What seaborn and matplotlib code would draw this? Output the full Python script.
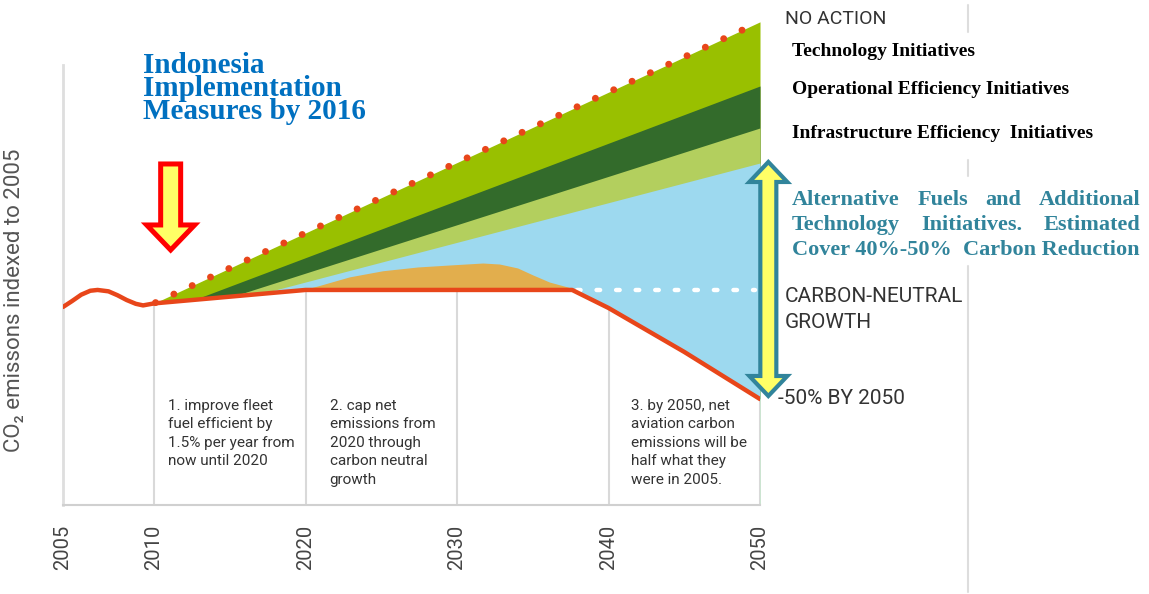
import numpy as np
import matplotlib
matplotlib.use("Agg")
import matplotlib.pyplot as plt
import matplotlib.font_manager as fm
import matplotlib.transforms as mtransforms
from matplotlib.patches import Polygon, Rectangle
from matplotlib.lines import Line2D
import seaborn as sns

# ---- data (CO2 index, 2005 = 100) ----
red_years = [2005, 2005.5, 2006, 2006.5, 2006.9, 2007.5, 2008, 2008.5, 2009, 2009.4,
             2010, 2020, 2037.6, 2040, 2045, 2050]
red_vals = [100.0, 103.0, 106.2, 108.2, 108.6, 107.9, 105.9, 103.5, 101.6, 100.8,
            101.8, 108.6, 108.6, 99.5, 77.3, 53.5]

neutral_years = [2037.9, 2049.7]
neutral_vals = [108.6, 108.6]

no_action_years = [2010.1, 2050]
no_action_vals = [102.2, 244.0]
tech_years = [2012.7, 2050]          # bottom of technology band
tech_vals = [103.8, 211.6]
ops_years = [2015.3, 2050]           # bottom of operational band
ops_vals = [105.6, 190.4]
infra_years = [2017.1, 2050]         # bottom of infrastructure band
infra_vals = [106.8, 172.7]

hump_years = [2019.8, 2020.8, 2022.9, 2025.1, 2027.4, 2029.5, 2031.7, 2032.8,
              2034.0, 2035.0, 2036.1, 2037.3, 2037.8]
hump_vals = [108.6, 110.6, 115.2, 118.3, 120.2, 121.2, 122.2, 121.7,
             119.7, 116.2, 112.6, 110.1, 108.6]

tick_years = [2005, 2010, 2020, 2030, 2040, 2050]
grid_years = [2010, 2020, 2030, 2040, 2050]

W, H = 1149, 594
names = {f.name for f in fm.fontManager.ttflist}
narrow = 'Liberation Sans Narrow' if 'Liberation Sans Narrow' in names else 'Roboto'
serif = 'Liberation Serif'

sns.set_style("white")

fig = plt.figure(figsize=(W / 100, H / 100), dpi=100)
ax = fig.add_axes([63 / W, (H - 505) / H, 697 / W, 500 / H])


# x axis is squeezed before 2010 and even after it
def fwd(x):
    x = np.asarray(x, dtype=float)
    return np.where(x < 2010, (x - 2005) * 18.2, 91 + (x - 2010) * 15.15)


def inv(u):
    u = np.asarray(u, dtype=float)
    return np.where(u < 91, 2005 + u / 18.2, 2010 + (u - 91) / 15.15)


ax.set_xscale('function', functions=(fwd, inv))
ax.set_xlim(2005, 2050)
ax.set_ylim(0, 252.5)

# bands, drawn from the top down, white under the emissions line
ax.fill_between(no_action_years, no_action_vals, 0, color='#99C000', lw=0)
ax.fill_between(tech_years, tech_vals, 0, color='#336B2B', lw=0)
ax.fill_between(ops_years, ops_vals, 0, color='#B3CF5E', lw=0)
ax.fill_between(infra_years, infra_vals, 0, color='#9DD9EF', lw=0)
ax.fill_between(hump_years, hump_vals, 0, color='#E2AE4D', lw=0)
ax.fill_between(red_years, red_vals, 0, color='white', lw=0)

for yr in grid_years:
    ax.vlines(yr, 0, np.interp(yr, red_years, red_vals), color='#d9d9d9', lw=1.5, zorder=1)

sns.lineplot(x=no_action_years, y=no_action_vals, ax=ax, color='#E8461A', lw=5,
             linestyle=(0, (0.01, 2.9)), dash_capstyle='round', zorder=4)
sns.lineplot(x=neutral_years, y=neutral_vals, ax=ax, color='white', lw=3.2,
             linestyle=(0, (0.8, 3.6)), dash_capstyle='round', zorder=4)
sns.lineplot(x=red_years, y=red_vals, ax=ax, color='#E8461A', lw=3.2, zorder=5,
             solid_joinstyle='round')

# axes styling
for s in ['top', 'right']:
    ax.spines[s].set_visible(False)
ax.spines['left'].set_bounds(0, 222)
ax.spines['left'].set_color('#dedede')
ax.spines['left'].set_linewidth(2)
ax.spines['bottom'].set_color('#d0d0d0')
ax.spines['bottom'].set_linewidth(1.5)
ax.set_xticks(tick_years)
ax.set_xticklabels([str(t) for t in tick_years], rotation=90, fontsize=14.5,
                   family=narrow, color='#444444')
ax.tick_params(axis='x', length=4, width=1.5, color='#cccccc', pad=10)
ax.set_yticks([])
ax.set_ylabel('CO\u2082 emissons indexed to 2005', fontsize=16, family=narrow, color='#555555')
ax.yaxis.set_label_coords((25 - 63) / 697, (505 - 300) / 500)

# notes under the curve
note_kw = dict(fontsize=11, family=narrow, color='#333333', va='top', ha='left', linespacing=1.4)
ax.text(2010.9, (505 - 399) / 1.98,
        '1. improve fleet\nfuel efficient by\n1.5% per year from\nnow until 2020', **note_kw)
ax.text(2021.6, (505 - 399) / 1.98,
        '2. cap net\nemissions from\n2020 through\ncarbon neutral\ngrowth', **note_kw)
ax.text(2041.5, (505 - 399) / 1.98,
        '3. by 2050, net\naviation carbon\nemissions will be\nhalf what they\nwere in 2005.', **note_kw)


def block_arrow(x, y_tip, length, shaft, head, head_len, fc, ec, lw, double=False):
    """block arrow pointing down to (x, y_tip); sizes in pixels"""
    hs, hh = shaft / 2, head / 2
    pts = [(0, 0), (hh, head_len), (hs, head_len)]
    if double:
        pts += [(hs, length - head_len), (hh, length - head_len), (0, length),
                (-hh, length - head_len), (-hs, length - head_len)]
    else:
        pts += [(hs, length), (-hs, length)]
    pts += [(-hs, head_len), (-hh, head_len)]
    tr = mtransforms.ScaledTranslation(x, y_tip, ax.transData)
    ax.add_patch(Polygon(pts, closed=True, fc=fc, ec=ec, lw=lw, transform=tr,
                         clip_on=False, zorder=6, joinstyle='miter'))


block_arrow(2011.1, (505 - 250) / 1.98, 86, 20, 48, 25, '#FFFF66', '#FF0000', 3.6)
block_arrow(2050.55, (505 - 396) / 1.98, 234, 16, 38, 20, '#FFFF66', '#31849B', 3, double=True)


def px(x, y):
    return x / W, 1 - y / H


# yellow title box
fig.add_artist(Rectangle(px(138, 145), 254 / W, 92 / H, transform=fig.transFigure,
                         color='#FFFF00', zorder=0))
fig.text(*px(143, 52), 'Indonesia\nImplementation\nMeasures by 2016', family=serif,
         weight='bold', fontsize=21, color='#0070C0', va='top', ha='left', linespacing=0.8)

# right hand labels
lab_kw = dict(family=narrow, fontsize=15, color='#333333', ha='left', va='center')
fig.text(*px(785, 19), 'NO ACTION', **dict(lab_kw, fontsize=14))
fig.text(*px(785, 297), 'CARBON-NEUTRAL', **lab_kw)
fig.text(*px(785, 322), 'GROWTH', **lab_kw)
fig.text(*px(778, 398), '-50% BY 2050', **lab_kw)

ini_kw = dict(family=serif, weight='bold', fontsize=14, color='black', ha='left', va='center')
fig.text(*px(792, 52), 'Technology Initiatives', **ini_kw)
fig.text(*px(792, 90), 'Operational Efficiency Initiatives', **ini_kw)
fig.text(*px(792, 133), 'Infrastructure Efficiency  Initiatives', **ini_kw)

# justified teal paragraph
renderer = fig.canvas.get_renderer()
par_kw = dict(family=serif, weight='bold', fontsize=16, color='#31849B', ha='left', va='center')
lines = [('Alternative Fuels and Additional', True, 200),
         ('Technology Initiatives. Estimated', True, 225),
         ('Cover 40%-50%  Carbon Reduction', False, 250)]
left, right = 792, 1140
for txt, justify, yy in lines:
    if not justify:
        fig.text(*px(left, yy), txt, **par_kw)
        continue
    words = txt.split()
    arts = [fig.text(0, 0, w, **par_kw) for w in words]
    widths = [a.get_window_extent(renderer).width for a in arts]
    gap = (right - left - sum(widths)) / (len(words) - 1)
    xx = left
    for a, wd in zip(arts, widths):
        a.set_position(px(xx, yy))
        xx += wd + gap

# thin separator on the right
for y0, y1 in [(5, 32), (160, 176), (266, 592)]:
    fig.add_artist(Line2D([968 / W, 968 / W], [1 - y0 / H, 1 - y1 / H],
                          transform=fig.transFigure, color='#dddddd', lw=1.5))

fig.savefig('out.png', dpi=100, facecolor='white')
